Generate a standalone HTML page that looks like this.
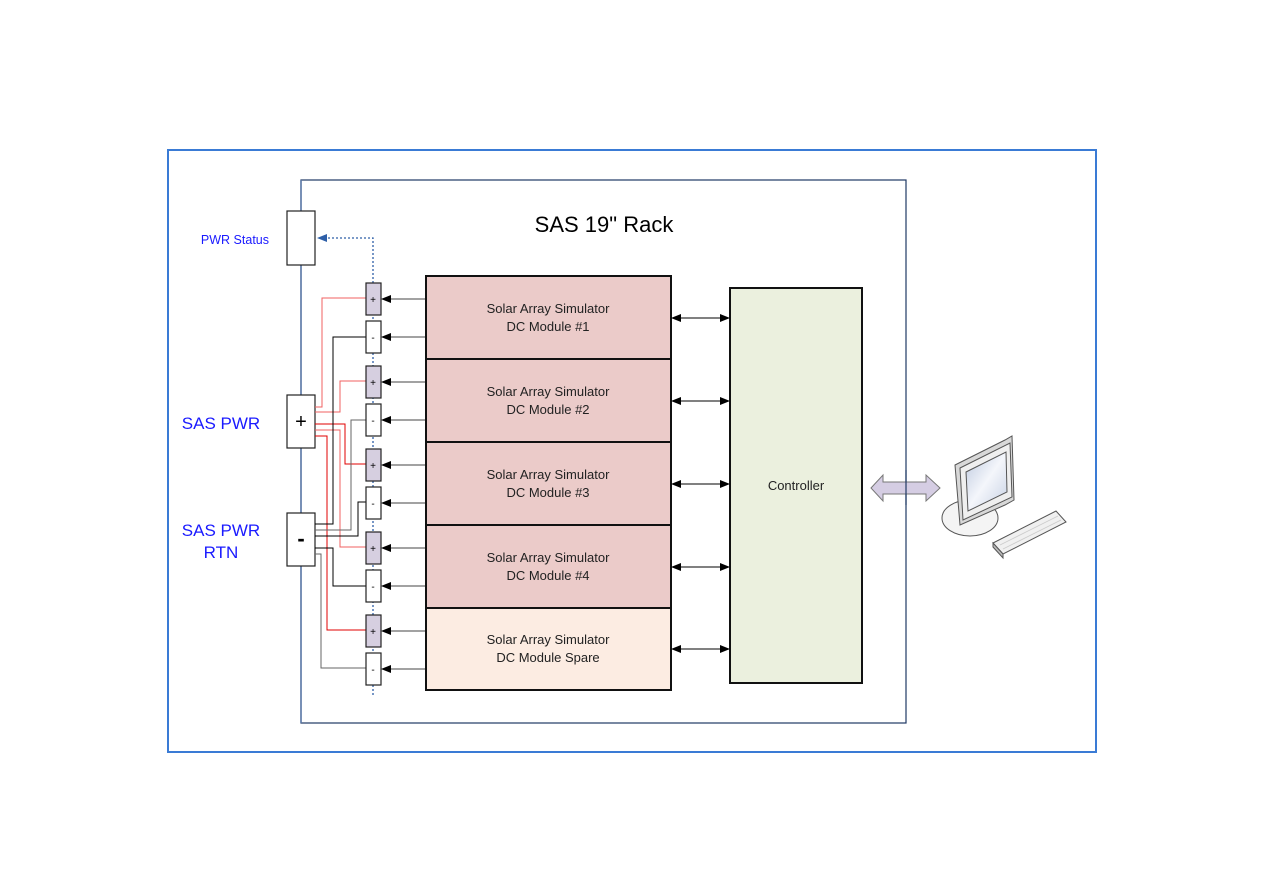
<!DOCTYPE html>
<html><head><meta charset="utf-8"><style>
html,body{margin:0;padding:0;background:#fff;width:1263px;height:893px;overflow:hidden}
text{font-family:"Liberation Sans",sans-serif}
</style></head><body>
<svg width="1263" height="893" viewBox="0 0 1263 893" xmlns="http://www.w3.org/2000/svg">
<defs>
<marker id="ah" markerWidth="10" markerHeight="8" refX="9" refY="4" orient="auto" markerUnits="userSpaceOnUse"><path d="M0,0 L10,4 L0,8 z" fill="#000"/></marker>
<marker id="ahs" markerWidth="10" markerHeight="8" refX="1" refY="4" orient="auto" markerUnits="userSpaceOnUse"><path d="M10,0 L0,4 L10,8 z" fill="#000"/></marker>
<marker id="ab" markerWidth="10" markerHeight="8" refX="9" refY="4" orient="auto" markerUnits="userSpaceOnUse"><path d="M0,0 L10,4 L0,8 z" fill="#2e5fa8"/></marker>
<linearGradient id="scr" x1="0" y1="0" x2="1" y2="1"><stop offset="0" stop-color="#bcc8de"/><stop offset="0.5" stop-color="#f4f6fb"/><stop offset="1" stop-color="#c6d0e3"/></linearGradient>
</defs>
<rect x="168" y="150" width="928" height="602" fill="none" stroke="#3a7bd5" stroke-width="2"/>
<rect x="301" y="180" width="605" height="543" fill="none" stroke="#1f3864" stroke-width="1.2"/>
<line x1="301" y1="180" x2="301" y2="723" stroke="#5a78a8" stroke-width="1.5"/>
<text x="604" y="232" font-size="22" text-anchor="middle" fill="#000">SAS 19" Rack</text>

<polyline points="373,695 373,238 318,238" fill="none" stroke="#2e5fa8" stroke-width="1.3" stroke-dasharray="2,2" marker-end="url(#ab)"/>

<rect x="287" y="211" width="28" height="54" fill="#fff" stroke="#222" stroke-width="1.2"/>
<rect x="287" y="395" width="28" height="53" fill="#fff" stroke="#222" stroke-width="1.2"/>
<rect x="287" y="513" width="28" height="53" fill="#fff" stroke="#222" stroke-width="1.2"/>
<text x="301" y="428" font-size="20" text-anchor="middle">+</text>
<text x="301" y="546" font-size="22" font-weight="bold" text-anchor="middle">-</text>
<text x="269" y="244" font-size="12.5" text-anchor="end" fill="#1a1aff">PWR Status</text>
<text x="221" y="429" font-size="17" text-anchor="middle" fill="#1a1aff">SAS PWR</text>
<text x="221" y="536" font-size="17" text-anchor="middle" fill="#1a1aff">SAS PWR</text>
<text x="221" y="558" font-size="17" text-anchor="middle" fill="#1a1aff">RTN</text>

<g fill="none" stroke-width="1">
<polyline points="315,407 322,407 322,298 366,298" stroke="#f06060"/>
<polyline points="315,412 340,412 340,381 366,381" stroke="#f06060"/>
<polyline points="315,424 345,424 345,464 366,464" stroke="#e00000"/>
<polyline points="315,430 340,430 340,547 366,547" stroke="#f06060"/>
<polyline points="315,436 327,436 327,630 366,630" stroke="#e00000"/>
<polyline points="315,524 333,524 333,337 366,337" stroke="#000"/>
<polyline points="315,530 351,530 351,420 366,420" stroke="#666"/>
<polyline points="315,536 358,536 358,502 366,502" stroke="#000"/>
<polyline points="315,548 333,548 333,586 366,586" stroke="#000"/>
<polyline points="315,554 321,554 321,668 366,668" stroke="#666"/>
</g>

<g stroke="#222" stroke-width="1.2">
<rect x="366" y="283" width="15" height="32" fill="#d6cfe0"/>
<rect x="366" y="321" width="15" height="32" fill="#fff"/>
<rect x="366" y="366" width="15" height="32" fill="#d6cfe0"/>
<rect x="366" y="404" width="15" height="32" fill="#fff"/>
<rect x="366" y="449" width="15" height="32" fill="#d6cfe0"/>
<rect x="366" y="487" width="15" height="32" fill="#fff"/>
<rect x="366" y="532" width="15" height="32" fill="#d6cfe0"/>
<rect x="366" y="570" width="15" height="32" fill="#fff"/>
<rect x="366" y="615" width="15" height="32" fill="#d6cfe0"/>
<rect x="366" y="653" width="15" height="32" fill="#fff"/>
</g>
<g font-size="10" text-anchor="middle">
<text x="373" y="303">+</text><text x="373" y="341">-</text>
<text x="373" y="386">+</text><text x="373" y="424">-</text>
<text x="373" y="469">+</text><text x="373" y="507">-</text>
<text x="373" y="552">+</text><text x="373" y="590">-</text>
<text x="373" y="635">+</text><text x="373" y="673">-</text>
</g>
<g stroke="#444" stroke-width="1" marker-end="url(#ah)">
<line x1="426" y1="299" x2="382" y2="299"/><line x1="426" y1="337" x2="382" y2="337"/>
<line x1="426" y1="382" x2="382" y2="382"/><line x1="426" y1="420" x2="382" y2="420"/>
<line x1="426" y1="465" x2="382" y2="465"/><line x1="426" y1="503" x2="382" y2="503"/>
<line x1="426" y1="548" x2="382" y2="548"/><line x1="426" y1="586" x2="382" y2="586"/>
<line x1="426" y1="631" x2="382" y2="631"/><line x1="426" y1="669" x2="382" y2="669"/>
</g>

<g stroke="#111" stroke-width="2">
<rect x="426" y="276" width="245" height="83" fill="#ebcbc9"/>
<rect x="426" y="359" width="245" height="83" fill="#ebcbc9"/>
<rect x="426" y="442" width="245" height="83" fill="#ebcbc9"/>
<rect x="426" y="525" width="245" height="83" fill="#ebcbc9"/>
<rect x="426" y="608" width="245" height="82" fill="#fcece2"/>
<rect x="730" y="288" width="132" height="395" fill="#ebf0de"/>
</g>
<g font-size="13" text-anchor="middle" fill="#222">
<text x="548" y="313">Solar Array Simulator</text><text x="548" y="331">DC Module #1</text>
<text x="548" y="396">Solar Array Simulator</text><text x="548" y="414">DC Module #2</text>
<text x="548" y="479">Solar Array Simulator</text><text x="548" y="497">DC Module #3</text>
<text x="548" y="562">Solar Array Simulator</text><text x="548" y="580">DC Module #4</text>
<text x="548" y="644">Solar Array Simulator</text><text x="548" y="662">DC Module Spare</text>
<text x="796" y="490">Controller</text>
</g>
<g stroke="#000" stroke-width="1" marker-end="url(#ah)" marker-start="url(#ahs)">
<line x1="672" y1="318" x2="729" y2="318"/>
<line x1="672" y1="401" x2="729" y2="401"/>
<line x1="672" y1="484" x2="729" y2="484"/>
<line x1="672" y1="567" x2="729" y2="567"/>
<line x1="672" y1="649" x2="729" y2="649"/>
</g>

<path d="M871,488 L883,475 L883,482 L926,482 L926,475 L940,488 L926,501 L926,494 L883,494 L883,501 Z" fill="#d5cde3" stroke="#777" stroke-width="1"/>
<line x1="906" y1="470" x2="906" y2="505" stroke="#1f3864" stroke-width="1.2"/>

<g stroke="#555" stroke-width="1">
<ellipse cx="970" cy="518" rx="28" ry="18" fill="#f4f4f4"/>
<path d="M955,465 L1005,440 L1012,436 L1014,500 L1005,505 L960,525 Z" fill="#d8d8d8"/>
<path d="M960,468 L1010,443 L1012,497 L963,520 Z" fill="#efefef"/>
<path d="M966,472 L1006,452 L1007,492 L968,511 Z" fill="url(#scr)"/>
<path d="M993,543 L1056,511 L1066,522 L1003,554 Z" fill="#f0f0f0"/>
<path d="M993,543 L1003,554 L1003,558 L993,547 Z" fill="#bbb"/>
<g stroke="#ccc" stroke-width="0.8">
<line x1="1000" y1="545" x2="1058" y2="516"/>
<line x1="1003" y1="549" x2="1061" y2="520"/>
</g>
</g>
</svg>
</body></html>
